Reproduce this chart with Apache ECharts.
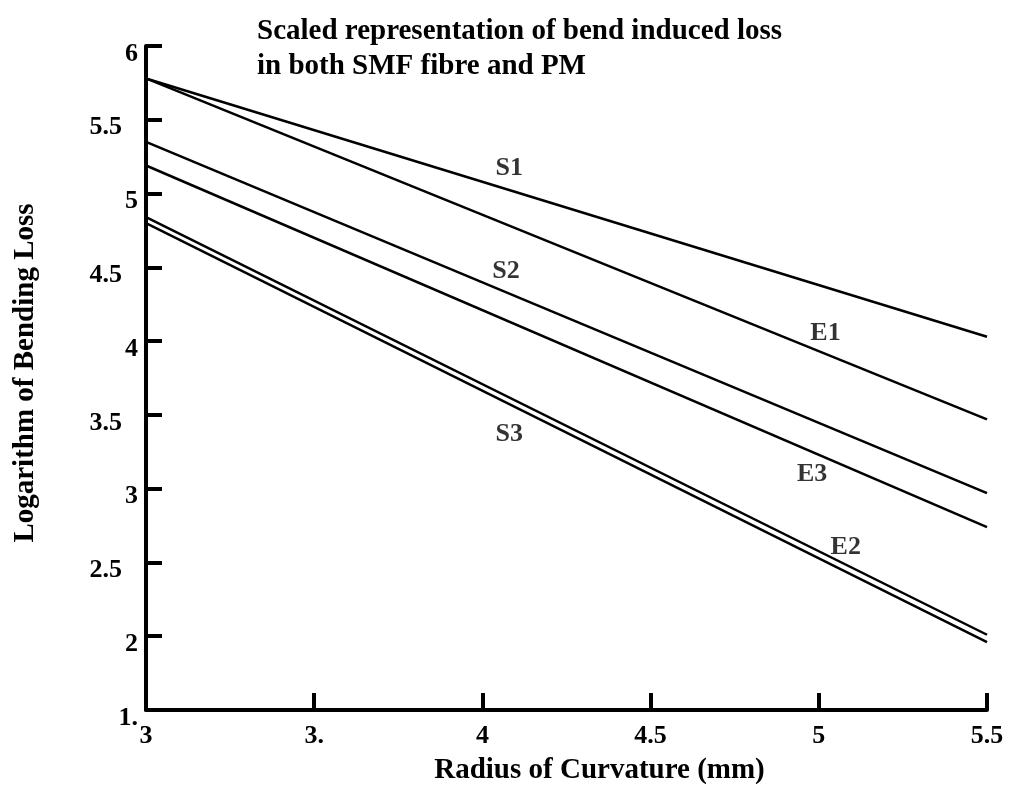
<!DOCTYPE html>
<html>
<head>
<meta charset="utf-8">
<script src="https://cdn.jsdelivr.net/npm/echarts@6/dist/echarts.min.js"></script>
<style>
    html, body { margin: 0; padding: 0; background: #fff; }
    #chart { width: 1010px; height: 790px; }
</style>
</head>
<body>
<div id="chart"></div>
<script>
    // radius of curvature (mm) at the two ends of each line
    var radius = [3, 5.5];

    // log of bending loss, one array per line (top to bottom)
    var lineS1 = [5.78, 4.03];
    var lineE1 = [5.78, 3.47];
    var lineS2 = [5.35, 2.97];
    var lineE3 = [5.19, 2.74];
    var lineS3 = [4.84, 2.01];
    var lineE2 = [4.80, 1.96];

    // curve labels and where they sit (data coords)
    var labelNames = ['S1', 'S2', 'S3', 'E1', 'E3', 'E2'];
    var labelX = [4.08, 4.07, 4.08, 5.02, 4.98, 5.08];
    var labelY = [5.17, 4.47, 3.37, 4.05, 3.10, 2.60];

    // tick labels as printed on the original
    var xTickValues = [3, 3.5, 4, 4.5, 5, 5.5];
    var xTickLabels = ['3', '3.', '4', '4.5', '5', '5.5'];
    var yTickValues = [1.5, 2, 2.5, 3, 3.5, 4, 4.5, 5, 5.5, 6];
    var yTickLabels = ['1.', '2', '2.5', '3', '3.5', '4', '4.5', '5', '5.5', '6'];

    var FONT = 'Liberation Serif';

    function pairs(ys) {
        return radius.map(function (x, i) { return [x, ys[i]]; });
    }

    function lineSeries(name, ys) {
        return {
            name: name,
            type: 'line',
            data: pairs(ys),
            showSymbol: false,
            silent: true,
            lineStyle: { color: '#000', width: 2.5 }
        };
    }

    var labelData = labelNames.map(function (n, i) {
        return { name: n, value: [labelX[i], labelY[i]] };
    });

    var option = {
        backgroundColor: '#fff',
        animation: false,
        title: {
            text: 'Scaled representation of bend induced loss\nin both SMF fibre and PM',
            left: 252,
            top: 9,
            textStyle: {
                fontFamily: FONT,
                fontWeight: 'bold',
                fontSize: 29,
                lineHeight: 35,
                color: '#000'
            }
        },
        grid: {
            left: 146,
            right: 23,
            top: 46,
            bottom: 74,
            containLabel: false
        },
        xAxis: {
            type: 'value',
            min: 3,
            max: 5.5,
            interval: 0.5,
            name: 'Radius of Curvature (mm)',
            nameLocation: 'middle',
            nameGap: 46,
            nameTextStyle: {
                fontFamily: FONT, fontWeight: 'bold', fontSize: 29, color: '#000',
                padding: [0, 0, 0, 66]
            },
            axisLine: { lineStyle: { color: '#000', width: 4 } },
            axisTick: { inside: true, length: 17, lineStyle: { color: '#000', width: 4 } },
            axisLabel: {
                margin: 13,
                fontFamily: FONT,
                fontWeight: 'bold',
                fontSize: 26,
                color: '#000',
                showMinLabel: true,
                showMaxLabel: true,
                formatter: function (v) {
                    var i = xTickValues.indexOf(v);
                    return i >= 0 ? xTickLabels[i] : '';
                }
            },
            splitLine: { show: false }
        },
        yAxis: {
            type: 'value',
            min: 1.5,
            max: 6,
            interval: 0.5,
            name: 'Logarithm of Bending Loss',
            nameLocation: 'middle',
            nameGap: 106,
            nameTextStyle: {
                fontFamily: FONT, fontWeight: 'bold', fontSize: 29, color: '#000',
                padding: [0, 0, 0, 10]
            },
            axisLine: { lineStyle: { color: '#000', width: 4 } },
            axisTick: { inside: true, length: 16, lineStyle: { color: '#000', width: 4 } },
            axisLabel: {
                margin: 8,
                fontFamily: FONT,
                fontWeight: 'bold',
                fontSize: 26,
                color: '#000',
                padding: [16, 0, 0, 0],
                formatter: function (v) {
                    var i = yTickValues.indexOf(v);
                    if (i < 0) return '';
                    var s = yTickLabels[i];
                    return s.indexOf('.5') >= 0 ? '{h|' + s + '}' : s;
                },
                rich: {
                    h: { fontFamily: FONT, fontWeight: 'bold', fontSize: 26, color: '#000', padding: [0, 16, 0, 0] }
                }
            },
            splitLine: { show: false }
        },
        series: [
            lineSeries('S1', lineS1),
            lineSeries('E1', lineE1),
            lineSeries('S2', lineS2),
            lineSeries('E3', lineE3),
            lineSeries('S3', lineS3),
            lineSeries('E2', lineE2),
            {
                type: 'scatter',
                symbolSize: 0,
                silent: true,
                data: labelData,
                label: {
                    show: true,
                    position: 'inside',
                    formatter: '{b}',
                    fontFamily: FONT,
                    fontWeight: 'bold',
                    fontSize: 26,
                    color: '#000'
                }
            }
        ]
    };

    var chart = echarts.init(document.getElementById('chart'));
    chart.setOption(option);
</script>
</body>
</html>
